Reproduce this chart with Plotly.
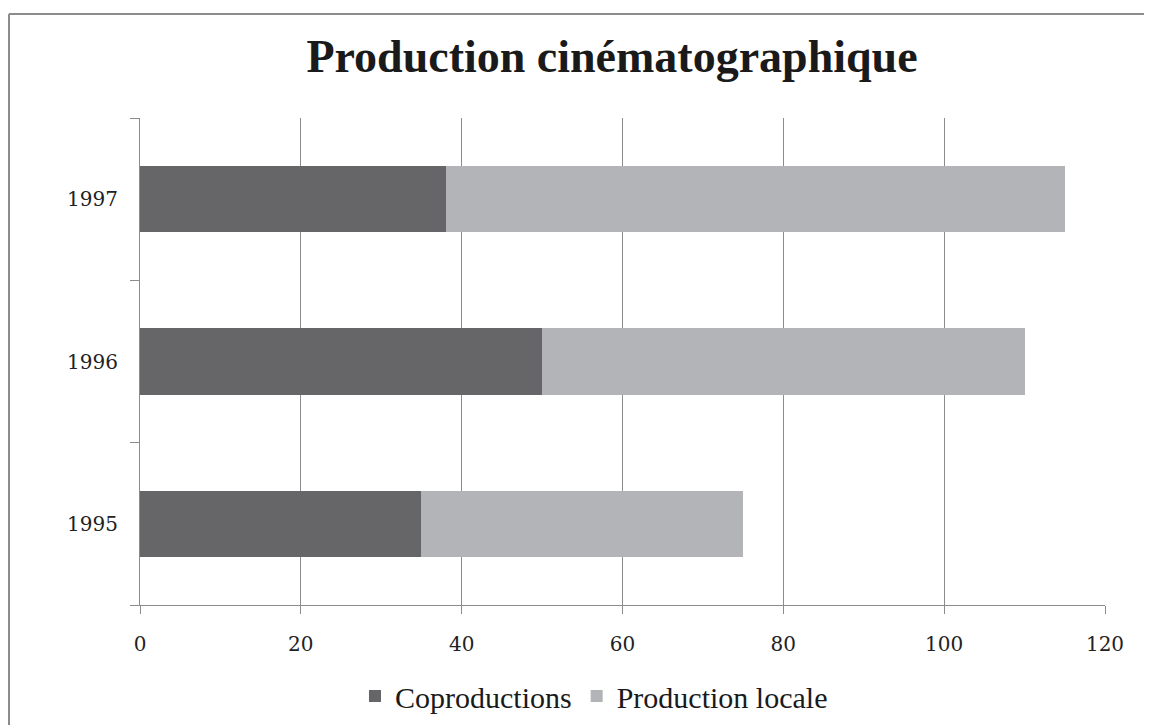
import plotly.graph_objects as go

years = ["1995", "1996", "1997"]
coproductions = [35, 50, 38]
production_locale = [40, 60, 77]
x_ticks = [0, 20, 40, 60, 80, 100, 120]

# page body has an 8px margin: figure pixel = page pixel - 8
OFF = 8
W, H = 1152 - OFF, 725 - OFF
ML = 140 - OFF
MT = 118 - OFF
MR = W - (1105 - OFF)
MB = H - (605 - OFF)
PW, PH = W - ML - MR, H - MT - MB

fig = go.Figure()
fig.add_trace(go.Bar(y=years, x=coproductions, orientation="h", name="Coproductions",
                     marker=dict(color="#666668", line=dict(width=0))))
fig.add_trace(go.Bar(y=years, x=production_locale, orientation="h", name="Production locale",
                     marker=dict(color="#b3b4b7", line=dict(width=0))))

serif = "Liberation Serif, Times New Roman, serif"
tickfont = "DejaVu Serif, serif"

def px_x(p):
    return (p - OFF - ML) / PW

def px_y(p):
    return (H - MB - (p - OFF)) / PH

border = "#8c8c8c"

fig.update_layout(
    width=W, height=H,
    margin=dict(l=ML, r=MR, t=MT, b=MB, autoexpand=False),
    barmode="stack",
    bargap=0.59,
    plot_bgcolor="white",
    paper_bgcolor="white",
    font=dict(family=serif, color="#1a1a1a"),
    title=dict(text="<b>Production cinématographique</b>", x=px_x(612), xref="paper",
               xanchor="center", y=1 - (56 - OFF) / H, yanchor="middle",
               font=dict(family=serif, size=46, color="#1a1a1a")),
    xaxis=dict(range=[0, 120], tickvals=x_ticks, showgrid=True, gridcolor=border, gridwidth=1,
               showline=True, linecolor=border, linewidth=1, ticks="outside", ticklen=8,
               tickcolor=border, tickfont=dict(family=tickfont, size=20, color="#222222"),
               ticklabelstandoff=13, zeroline=False, fixedrange=True, automargin=False),
    yaxis=dict(categoryorder="array", categoryarray=years, showgrid=False, showline=True,
               linecolor=border, linewidth=1, ticks="outside", ticklen=9, tickson="boundaries",
               tickcolor=border, tickfont=dict(family=tickfont, size=20, color="#222222"),
               ticklabelstandoff=17, automargin=False),
    legend=dict(orientation="h", x=px_x(594), xanchor="center", y=px_y(696), yanchor="middle",
                font=dict(family=serif, size=30, color="#1a1a1a"), traceorder="normal",
                itemwidth=30),
    showlegend=True,
    shapes=[
        dict(type="line", xref="paper", yref="paper",
             x0=px_x(9), x1=px_x(1160), y0=px_y(14), y1=px_y(14),
             line=dict(color=border, width=2), layer="below"),
        dict(type="line", xref="paper", yref="paper",
             x0=px_x(9), x1=px_x(9), y0=px_y(14), y1=px_y(740),
             line=dict(color=border, width=2), layer="below"),
    ],
)

fig.write_html("out.html",
               post_script="document.documentElement.style.overflow='hidden';"
                           "document.body.style.overflow='hidden';")
